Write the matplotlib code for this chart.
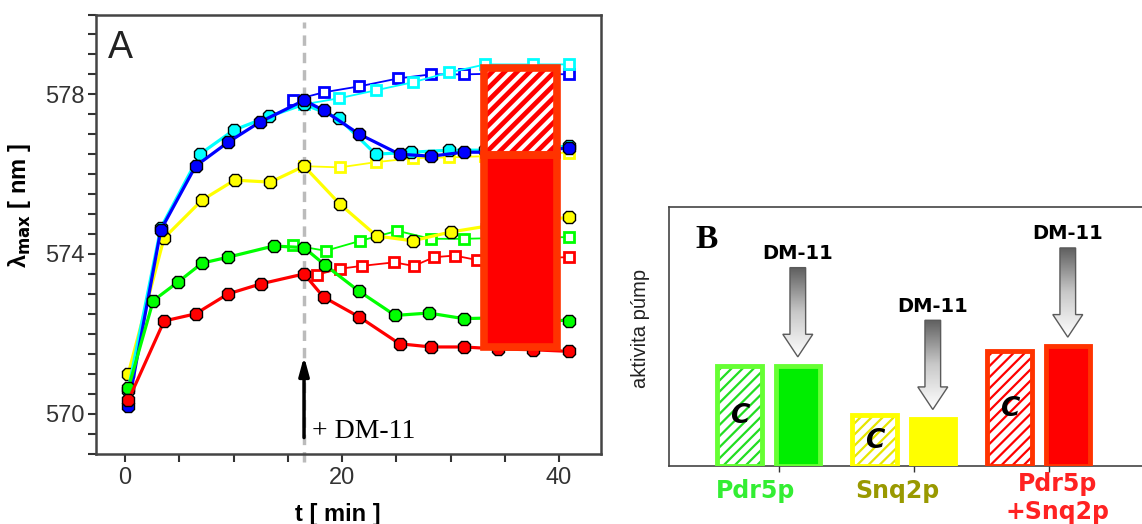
import numpy as np
import matplotlib.pyplot as plt
from matplotlib.patches import Rectangle, Polygon
from matplotlib.collections import LineCollection
from matplotlib.colors import LinearSegmentedColormap

plt.rcParams['font.family'] = ['Liberation Sans', 'DejaVu Sans']

# ---- Panel A: lambda_max [nm] vs time [min] ----
# filled symbols: before / after DM-11
t_blue = [0.3, 3.3, 6.5, 9.5, 12.4, 16.5, 18.3, 21.6, 25.3, 28.2, 31.2, 34.4, 37.6, 40.9]
lam_blue = [570.2, 574.6, 576.2, 576.8, 577.3, 577.85, 577.6, 577.0, 576.5, 576.45, 576.55, 576.55, 576.6, 576.65]
t_cyan = [0.3, 3.3, 6.9, 10.0, 13.3, 16.5, 19.7, 23.1, 26.4, 29.9, 33.2, 36.8, 40.9]
lam_cyan = [570.6, 574.65, 576.5, 577.1, 577.45, 577.75, 577.4, 576.5, 576.55, 576.6, 576.6, 576.65, 576.7]
t_yellow = [0.3, 3.6, 7.1, 10.1, 13.4, 16.5, 19.8, 23.2, 26.5, 30.0, 33.4, 37.0, 40.9]
lam_yellow = [571.0, 574.4, 575.35, 575.85, 575.8, 576.2, 575.25, 574.45, 574.33, 574.55, 574.7, 574.8, 574.92]
t_green = [0.3, 2.6, 4.9, 7.1, 9.5, 13.7, 16.5, 18.4, 21.6, 24.9, 28.0, 31.2, 34.4, 37.6, 40.9]
lam_green = [570.63, 572.83, 573.3, 573.77, 573.92, 574.2, 574.16, 573.73, 573.06, 572.46, 572.52, 572.38, 572.4, 572.35, 572.33]
t_red = [0.3, 3.6, 6.5, 9.5, 12.5, 16.5, 18.3, 21.6, 25.3, 28.2, 31.2, 34.4, 37.6, 40.9]
lam_red = [570.33, 572.32, 572.5, 573.0, 573.25, 573.5, 572.92, 572.42, 571.75, 571.67, 571.67, 571.62, 571.6, 571.56]

# open squares: without DM-11
t_blue_o = [15.5, 18.3, 21.6, 25.2, 28.2, 31.2, 34.4, 37.6, 40.9]
lam_blue_o = [577.85, 578.05, 578.2, 578.4, 578.5, 578.5, 578.52, 578.52, 578.5]
t_cyan_o = [16.5, 19.7, 23.1, 26.5, 29.9, 33.2, 37.6, 40.9]
lam_cyan_o = [577.75, 577.9, 578.1, 578.3, 578.55, 578.75, 578.75, 578.75]
t_yellow_o = [16.5, 19.8, 23.1, 26.5, 29.9, 33.2, 36.8, 40.9]
lam_yellow_o = [576.2, 576.17, 576.3, 576.4, 576.42, 576.45, 576.5, 576.54]
t_green_o = [15.5, 18.5, 21.7, 25.1, 28.2, 31.2, 34.4, 37.6, 40.9]
lam_green_o = [574.22, 574.08, 574.33, 574.58, 574.38, 574.38, 574.4, 574.42, 574.42]
t_red_o = [17.7, 19.8, 21.8, 24.8, 26.6, 28.5, 30.4, 32.4, 35.3, 38.1, 40.9]
lam_red_o = [573.48, 573.63, 573.7, 573.79, 573.7, 573.92, 573.96, 573.85, 573.9, 573.9, 573.92]

t_dm11 = 16.5
# red summary bar drawn over panel A (time span, bottom, split, top)
overlay_t = [33.04, 39.77]
overlay_lam = [571.67, 576.47, 578.66]

# ---- Panel B: pump activity ----
groups = ['Pdr5p', 'Snq2p', 'Pdr5p\n+Snq2p']
activity_c = [38.6, 19.6, 44.3]
activity_dm = [38.6, 18.3, 46.2]

fig = plt.figure(figsize=(11.42, 5.24), dpi=100)

# ================= panel A =================
axA = fig.add_axes([0.0838, 0.1345, 0.4425, 0.8378])

open_series = [(t_blue_o, lam_blue_o, '#0000ff'), (t_cyan_o, lam_cyan_o, '#00ffff'),
               (t_yellow_o, lam_yellow_o, '#ffff00'), (t_green_o, lam_green_o, '#00ff00'),
               (t_red_o, lam_red_o, '#ff0000')]
for t, lam, col in open_series:
    axA.plot(t, lam, '-s', color=col, lw=1.3, ms=7.5, mfc='white', mec=col, mew=2, zorder=3)

filled_series = [(t_yellow, lam_yellow, '#ffff00'), (t_cyan, lam_cyan, '#00ffff'),
                 (t_blue, lam_blue, '#0000ff'), (t_green, lam_green, '#00ff00'),
                 (t_red, lam_red, '#ff0000')]
for t, lam, col in filled_series:
    axA.plot(t, lam, '-8', color=col, lw=2.3, ms=10, mfc=col, mec='black', mew=1, zorder=4)

axA.axvline(t_dm11, ymin=-0.02, ymax=0.982, color='#bbbbbb', lw=2.5, ls=(0, (3, 2)),
            clip_on=False, zorder=2)

axA.set_xlim(-2.7, 43.87)
axA.set_ylim(569, 580)

# overlay bar (hatched = control part, solid = DM-11 part)
x0, x1 = overlay_t
lo, mid, hi = overlay_lam
hatch_box = Rectangle((x0, mid), x1 - x0, hi - mid, facecolor='white', lw=0, zorder=6)
axA.add_patch(hatch_box)
# 45 degree stripes (in pixels) -> slope in data units
slope = (10.85 / 40.0)
run = (hi - mid) / slope
starts = np.arange(x0 - run, x1, 1.15)
segs = [[(s, mid), (s + run, hi)] for s in starts]
stripes = LineCollection(segs, colors='#ff0000', linewidths=3.4, zorder=6.5)
axA.add_collection(stripes)
stripes.set_clip_path(hatch_box)
axA.add_patch(Rectangle((x0, lo), x1 - x0, mid - lo, facecolor='#ff0000', lw=0, zorder=6))
axA.add_patch(Rectangle((x0, mid), x1 - x0, hi - mid, fill=False, edgecolor='#ff3300', lw=5.5, zorder=7))
axA.add_patch(Rectangle((x0, lo), x1 - x0, mid - lo, fill=False, edgecolor='#ff3300', lw=5.5, zorder=7))

axA.annotate('', xy=(t_dm11, 571.5), xytext=(t_dm11, 569.33),
             arrowprops=dict(arrowstyle='-|>,head_length=1.1,head_width=0.3', color='black', lw=2.5),
             zorder=8)
axA.text(17.2, 569.56, '+ DM-11', family='Liberation Serif', fontsize=20, ha='left', va='center')
axA.text(0.024, 0.965, 'A', transform=axA.transAxes, fontsize=27, ha='left', va='top', color='#222222')

axA.set_xticks([0, 20, 40])
axA.set_xticks(np.arange(0, 45, 5), minor=True)
axA.set_yticks([570, 574, 578])
axA.set_yticks(np.arange(569, 580.1, 0.5), minor=True)
axA.tick_params(which='both', direction='out', length=6, width=1.5, color='#333333')
axA.tick_params(axis='both', labelsize=17, labelcolor='#333333')
axA.tick_params(axis='y', pad=2)
axA.tick_params(axis='x', pad=4)
for s in axA.spines.values():
    s.set_color('#444444')
    s.set_linewidth(1.8)
axA.set_ylabel('λ$_{\\mathbf{max}}$ [ nm ]', fontsize=17, fontweight='bold')
axA.yaxis.set_label_coords(-0.124, 0.565)
fig.text(337.5 / 1142, 1 - 503 / 524, 't [ min ]', ha='center', va='top', fontsize=17, fontweight='bold')

# ================= panel B =================
axB = fig.add_axes([0.586, 0.1107, 0.4139, 0.4948])
xB = np.arange(len(groups))
xc = xB - 0.29
xd = xB + 0.14
w = 0.33
edge_cols = ['#66ff33', '#ffff00', '#ff3300']
hatch_cols = ['#22dd22', '#e6e600', '#ff0000']
dm_cols = ['#00ee00', '#ffff00', '#ff0000']
label_cols = ['#33ee33', '#999900', '#ff2222']

plt.rcParams['hatch.linewidth'] = 1.6
axB.bar(xc, activity_c, w, color='white', edgecolor=hatch_cols, hatch='///', lw=0, zorder=2)
axB.bar(xc, activity_c, w, fill=False, edgecolor=edge_cols, lw=3.5, zorder=3)
axB.bar(xd, activity_dm, w, color=dm_cols, edgecolor=edge_cols, lw=3.5, zorder=3)

for x, v in zip(xc, activity_c):
    axB.text(x, v / 2, 'C', fontsize=19, fontweight='bold', style='italic',
             family='DejaVu Sans', ha='center', va='center', zorder=4)

gray_cmap = LinearSegmentedColormap.from_list('g', ['#5e5e5e', '#c8c8c8', '#ffffff'])
for x, v in zip(xd, activity_dm):
    tip = v + 3.5
    top = tip + 34.4
    yb = tip + 8.7
    sw, hw = 0.058, 0.111
    verts = [(x - sw, top), (x + sw, top), (x + sw, yb), (x + hw, yb), (x, tip),
             (x - hw, yb), (x - sw, yb)]
    poly = Polygon(verts, closed=True, facecolor='none', edgecolor='#5a5a5a', lw=1, zorder=6)
    axB.add_patch(poly)
    im = axB.imshow(np.linspace(0, 1, 200).reshape(-1, 1), cmap=gray_cmap, aspect='auto',
                    extent=(x - hw, x + hw, tip, top), zorder=5)
    im.set_clip_path(poly)
    axB.text(x, top + 5.4, 'DM-11', family='DejaVu Sans', fontsize=14, fontweight='bold',
             ha='center', va='center')

label_dx = [-0.1, -0.05, 0.14]
label_top = [-0.05, -0.05, -0.022]
for k, (name, col) in enumerate(zip(groups, label_cols)):
    for j, line in enumerate(name.split('\n')):
        axB.text(xB[k] - 0.075 + label_dx[k], label_top[k] - j * 0.108, line,
                 transform=axB.get_xaxis_transform(), family='DejaVu Sans', fontsize=17,
                 fontweight='bold', color=col, ha='center', va='top', clip_on=False)

axB.text(0.0565, 0.8396, 'B', transform=axB.transAxes, family='Liberation Serif',
         fontsize=24, fontweight='bold', va='baseline', ha='left')
axB.set_xlim(-0.8126, 2.689)
axB.set_ylim(0, 100)
axB.set_xticks(xB)
axB.set_xticklabels([])
axB.set_yticks([])
axB.tick_params(axis='x', direction='out', length=4, width=1, color='#333333')
axB.spines['right'].set_visible(False)
for s in ['left', 'top', 'bottom']:
    axB.spines[s].set_color('#444444')
    axB.spines[s].set_linewidth(1.2)
axB.set_ylabel('aktivita púmp', fontsize=14.5, color='#222222')
axB.yaxis.set_label_coords(-0.041, 0.532)

fig.savefig('out.png', dpi=100)
